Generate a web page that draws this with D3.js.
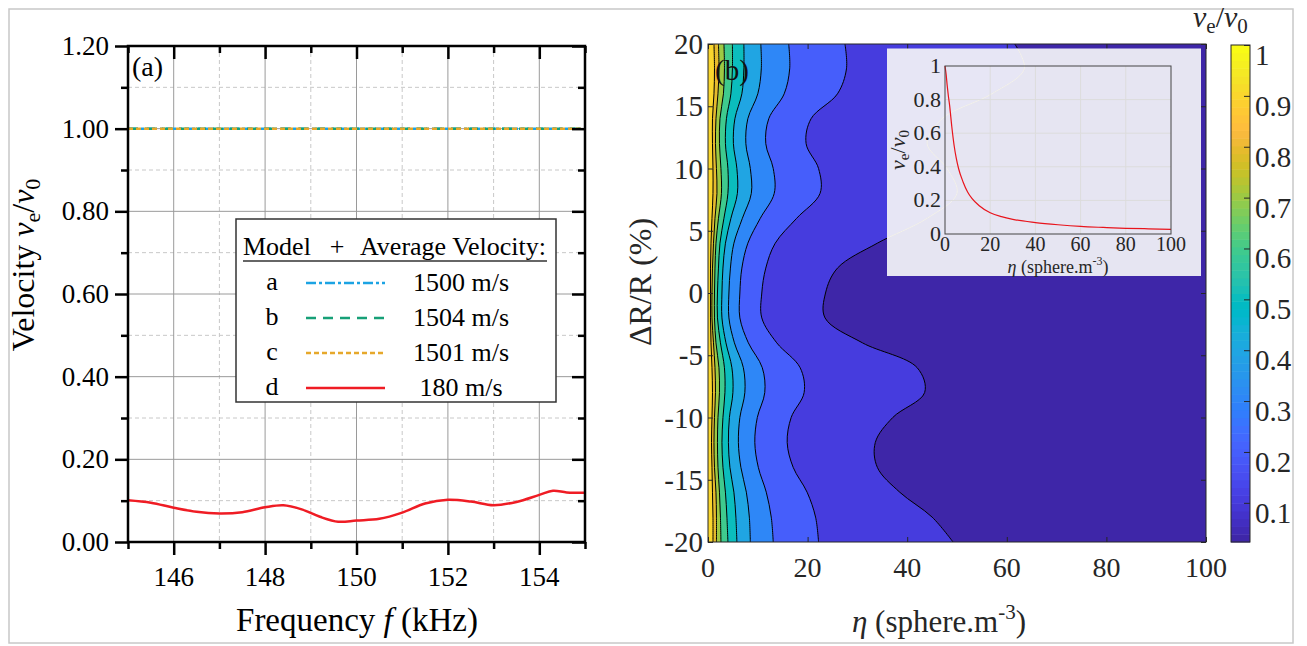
<!DOCTYPE html>
<html><head><meta charset="utf-8">
<script src="https://cdn.jsdelivr.net/npm/d3@7"></script>
<style>
html,body{margin:0;padding:0;background:#fff}
svg{display:block;font-family:"Liberation Serif","Times New Roman",serif}
</style></head><body>
<svg id="fig" width="1307" height="646"></svg>
<script>
// ---------- Panel (a): effective velocity vs frequency ----------
const freqMajor = [146, 148, 150, 152, 154];
const freqMinor = [145, 147, 149, 151, 153, 155];
const velMajor = [0, 0.2, 0.4, 0.6, 0.8, 1.0, 1.2];
const velMinor = [0.1, 0.3, 0.5, 0.7, 0.9, 1.1];

const flatFreq = [145, 155];
const modelA = [1.0, 1.0];
const modelB = [1.0, 1.0];
const modelC = [1.0, 1.0];
const modelDFreq = [145, 145.5, 146, 146.5, 147, 147.5, 148, 148.4, 148.8, 149.2, 149.6, 150, 150.5, 151, 151.5, 152, 152.5, 153, 153.5, 154, 154.3, 154.6, 155];
const modelDVel = [0.101, 0.095, 0.083, 0.073, 0.069, 0.072, 0.084, 0.089, 0.079, 0.061, 0.049, 0.052, 0.056, 0.071, 0.093, 0.102, 0.098, 0.089, 0.097, 0.114, 0.124, 0.120, 0.119];

const legendKeys = ["a", "b", "c", "d"];
const legendSpeeds = ["1500 m/s", "1504 m/s", "1501 m/s", "180 m/s"];

// ---------- Panel (b): contour of v_e/v_0 over eta and dR/R ----------
const deltaR = [20, 18, 16, 14, 12, 10, 8, 6, 4, 2, 0, -2, -4, -6, -8, -10, -12, -14, -16, -18, -20];
const levels = [0.1, 0.2, 0.3, 0.4, 0.5, 0.6, 0.7, 0.8, 0.9];
const eta01 = [61.6, 63.5, 57.0, 47.0, 44.0, 48.0, 50.0, 44.0, 34.0, 26.0, 23.6, 23.5, 31.0, 42.0, 43.5, 37.1, 33.6, 34.0, 38.5, 45.0, 49.2];
const eta02 = [27.5, 27.8, 26.0, 20.7, 19.7, 22.2, 22.5, 17.8, 13.5, 11.6, 10.8, 10.8, 13.8, 18.5, 19.3, 16.7, 15.9, 17.1, 19.9, 21.6, 22.2];
const eta03 = [16.2, 16.4, 15.3, 12.2, 11.6, 13.1, 13.3, 10.5, 8.0, 6.8, 6.4, 6.4, 8.1, 10.9, 11.4, 9.9, 9.4, 10.1, 11.7, 12.7, 13.1];
const eta04 = [10.6, 10.7, 10.0, 8.0, 7.6, 8.5, 8.7, 6.9, 5.2, 4.5, 4.2, 4.2, 5.3, 7.1, 7.4, 6.4, 6.1, 6.6, 7.7, 8.3, 8.5];
const eta05 = [7.2, 7.2, 6.8, 5.4, 5.1, 5.8, 5.9, 4.6, 3.5, 3.0, 2.8, 2.8, 3.6, 4.8, 5.0, 4.3, 4.1, 4.4, 5.2, 5.6, 5.8];
const eta06 = [4.9, 4.9, 4.6, 3.7, 3.5, 4.0, 4.0, 3.2, 2.4, 2.1, 1.9, 1.9, 2.5, 3.3, 3.4, 3.0, 2.8, 3.0, 3.5, 3.8, 4.0];
const eta07 = [3.2, 3.3, 3.1, 2.4, 2.3, 2.6, 2.7, 2.1, 1.6, 1.4, 1.3, 1.3, 1.6, 2.2, 2.3, 2.0, 1.9, 2.0, 2.3, 2.5, 2.6];
const eta08 = [2.1, 2.2, 2.0, 1.6, 1.5, 1.7, 1.8, 1.4, 1.1, 0.9, 0.8, 0.8, 1.1, 1.4, 1.5, 1.3, 1.2, 1.3, 1.6, 1.7, 1.7];
const eta09 = [1.2, 1.3, 1.2, 0.9, 0.9, 1.0, 1.0, 0.8, 0.6, 0.5, 0.5, 0.5, 0.6, 0.8, 0.9, 0.8, 0.7, 0.8, 0.9, 1.0, 1.0];
const contourLines = [eta01, eta02, eta03, eta04, eta05, eta06, eta07, eta08, eta09];
const velMin = 0.023, velMax = 1;

const etaTicks = [0, 20, 40, 60, 80, 100];
const dRTicks = [20, 15, 10, 5, 0, -5, -10, -15, -20];
const cbTicks = [0.1, 0.2, 0.3, 0.4, 0.5, 0.6, 0.7, 0.8, 0.9, 1];

// inset: v_e/v_0 against eta
const insetEta = [0, 0.5, 1, 1.5, 2, 3, 4, 5, 6, 8, 10, 12, 15, 20, 25, 30, 40, 50, 60, 70, 80, 90, 100];
const insetVel = [1.0, 0.95, 0.88, 0.82, 0.77, 0.64, 0.53, 0.45, 0.39, 0.31, 0.25, 0.21, 0.17, 0.127, 0.103, 0.087, 0.068, 0.055, 0.045, 0.039, 0.034, 0.031, 0.028];
const insetXTicks = [0, 20, 40, 60, 80, 100];
const insetYTicks = [0, 0.2, 0.4, 0.6, 0.8, 1];

// MATLAB parula, 64 entries
const parula = [
[0.2422,0.1504,0.6603],[0.2504,0.1650,0.7076],[0.2578,0.1818,0.7511],[0.2647,0.1978,0.7952],
[0.2706,0.2147,0.8364],[0.2751,0.2342,0.8710],[0.2783,0.2559,0.8991],[0.2803,0.2782,0.9221],
[0.2813,0.3006,0.9414],[0.2810,0.3228,0.9579],[0.2795,0.3447,0.9717],[0.2760,0.3667,0.9829],
[0.2699,0.3892,0.9906],[0.2602,0.4123,0.9952],[0.2440,0.4358,0.9988],[0.2206,0.4603,0.9973],
[0.1963,0.4847,0.9892],[0.1834,0.5074,0.9798],[0.1786,0.5289,0.9682],[0.1764,0.5499,0.9520],
[0.1687,0.5703,0.9359],[0.1540,0.5902,0.9218],[0.1460,0.6091,0.9079],[0.1380,0.6276,0.8973],
[0.1248,0.6459,0.8883],[0.1113,0.6635,0.8763],[0.0952,0.6798,0.8598],[0.0689,0.6948,0.8394],
[0.0297,0.7082,0.8163],[0.0036,0.7203,0.7917],[0.0067,0.7312,0.7660],[0.0433,0.7411,0.7394],
[0.0964,0.7500,0.7120],[0.1408,0.7584,0.6842],[0.1717,0.7670,0.6554],[0.1938,0.7758,0.6251],
[0.2161,0.7843,0.5923],[0.2470,0.7918,0.5567],[0.2906,0.7973,0.5188],[0.3406,0.8008,0.4789],
[0.3909,0.8029,0.4354],[0.4456,0.8024,0.3909],[0.5044,0.7993,0.3480],[0.5616,0.7942,0.3045],
[0.6174,0.7876,0.2612],[0.6720,0.7793,0.2227],[0.7242,0.7698,0.1910],[0.7738,0.7598,0.1646],
[0.8203,0.7498,0.1535],[0.8634,0.7406,0.1596],[0.9035,0.7330,0.1774],[0.9393,0.7288,0.2100],
[0.9728,0.7298,0.2394],[0.9956,0.7434,0.2371],[0.9970,0.7659,0.2199],[0.9952,0.7893,0.2028],
[0.9892,0.8136,0.1885],[0.9786,0.8386,0.1766],[0.9676,0.8639,0.1643],[0.9610,0.8890,0.1537],
[0.9597,0.9135,0.1423],[0.9628,0.9373,0.1265],[0.9691,0.9606,0.1064],[0.9769,0.9839,0.0805]];
const parulaHex = parula.map(c => d3.rgb(c[0]*255, c[1]*255, c[2]*255).formatHex());
function cmap(v) {
  const t = (v - velMin) / (velMax - velMin);
  return parulaHex[Math.max(0, Math.min(63, Math.floor(t * 64)))];
}

const svg = d3.select("#fig");
const defs = svg.append("defs");
svg.append("rect").attr("width", 1307).attr("height", 646).attr("fill", "#fff");
svg.append("rect").attr("x", 9).attr("y", 9).attr("width", 1284).attr("height", 634)
  .attr("fill", "none").attr("stroke", "#c8c8c8").attr("stroke-width", 1.5);

// tick labels placed from a scale
function tickLabels(g, values, xf, yf, fmt, size, anchor, fill) {
  g.selectAll(null).data(values).join("text")
    .attr("x", xf).attr("y", yf).attr("font-size", size)
    .attr("text-anchor", anchor).attr("fill", fill).text(fmt);
}
// tick marks only from d3 axes
function tickMarks(g, axis, color, width) {
  g.call(axis.tickFormat(""));
  g.select(".domain").remove();
  g.selectAll(".tick line").attr("stroke", color).attr("stroke-width", width);
  g.selectAll(".tick text").remove();
}

// ================= Panel (a) =================
const A = {l: 128, r: 585, t: 46, b: 542};
const xA = d3.scaleLinear().domain([145, 155]).range([A.l, A.r]);
const yA = d3.scaleLinear().domain([0, 1.2]).range([A.b, A.t]);
const gA = svg.append("g");

// grid
gA.selectAll(".vmin").data(freqMinor.filter(d => d > 145 && d < 155)).join("line")
  .attr("x1", d => xA(d)).attr("x2", d => xA(d)).attr("y1", A.t).attr("y2", A.b)
  .attr("stroke", "#c8c8c8").attr("stroke-width", 1).attr("stroke-dasharray", "4,3");
gA.selectAll(".hmin").data(velMinor).join("line")
  .attr("y1", d => yA(d)).attr("y2", d => yA(d)).attr("x1", A.l).attr("x2", A.r)
  .attr("stroke", "#c8c8c8").attr("stroke-width", 1).attr("stroke-dasharray", "4,3");
gA.selectAll(".vmaj").data(freqMajor).join("line")
  .attr("x1", d => xA(d)).attr("x2", d => xA(d)).attr("y1", A.t).attr("y2", A.b)
  .attr("stroke", "#9a9a9a").attr("stroke-width", 1);
gA.selectAll(".hmaj").data(velMajor.filter(d => d > 0 && d < 1.2)).join("line")
  .attr("y1", d => yA(d)).attr("y2", d => yA(d)).attr("x1", A.l).attr("x2", A.r)
  .attr("stroke", "#9a9a9a").attr("stroke-width", 1);

// series
const lineA = d3.line().x((d, i) => xA(flatFreq[i])).y(d => yA(d));
gA.append("path").datum(modelA).attr("d", lineA).attr("fill", "none")
  .attr("stroke", "#1ca3e3").attr("stroke-width", 2.5).attr("stroke-dasharray", "10,3,3,3");
gA.append("path").datum(modelB).attr("d", lineA).attr("fill", "none")
  .attr("stroke", "#17a077").attr("stroke-width", 2.5).attr("stroke-dasharray", "10,7");
gA.append("path").datum(modelC).attr("d", lineA).attr("fill", "none")
  .attr("stroke", "#e6a82b").attr("stroke-width", 2.5).attr("stroke-dasharray", "5,3");
const lineD = d3.line().curve(d3.curveCatmullRom.alpha(0.5))
  .x((d, i) => xA(modelDFreq[i])).y(d => yA(d));
gA.append("path").datum(modelDVel).attr("d", lineD).attr("fill", "none")
  .attr("stroke", "#ef1c24").attr("stroke-width", 2.5);

// ticks: outward on left/bottom, inward on top/right
gA.append("g").attr("transform", `translate(${A.l},0)`).call(g => tickMarks(g, d3.axisLeft(yA).tickValues(velMajor).tickSize(13), "#000", 2.5));
gA.append("g").attr("transform", `translate(${A.l},0)`).call(g => tickMarks(g, d3.axisLeft(yA).tickValues(velMinor).tickSize(7), "#000", 2.5));
gA.append("g").attr("transform", `translate(0,${A.b})`).call(g => tickMarks(g, d3.axisBottom(xA).tickValues(freqMajor).tickSize(13), "#000", 2.5));
gA.append("g").attr("transform", `translate(0,${A.b})`).call(g => tickMarks(g, d3.axisBottom(xA).tickValues(freqMinor).tickSize(7), "#000", 2.5));
gA.append("g").attr("transform", `translate(0,${A.t})`).call(g => tickMarks(g, d3.axisTop(xA).tickValues(freqMajor).tickSize(-13), "#000", 2.5));
gA.append("g").attr("transform", `translate(0,${A.t})`).call(g => tickMarks(g, d3.axisTop(xA).tickValues(freqMinor).tickSize(-7), "#000", 2.5));
gA.append("g").attr("transform", `translate(${A.r},0)`).call(g => tickMarks(g, d3.axisRight(yA).tickValues(velMajor).tickSize(-13), "#000", 2.5));
gA.append("g").attr("transform", `translate(${A.r},0)`).call(g => tickMarks(g, d3.axisRight(yA).tickValues(velMinor).tickSize(-7), "#000", 2.5));
gA.append("rect").attr("x", A.l).attr("y", A.t).attr("width", A.r - A.l).attr("height", A.b - A.t)
  .attr("fill", "none").attr("stroke", "#000").attr("stroke-width", 2.5);
tickLabels(gA, velMajor, () => 109, d => yA(d) + 9, d3.format(".2f"), 27, "end", "#000");
tickLabels(gA, freqMajor, d => xA(d), () => 586, d3.format("d"), 27, "middle", "#000");

// legend
const leg = gA.append("g");
leg.append("rect").attr("x", 236).attr("y", 219).attr("width", 320).attr("height", 183)
  .attr("fill", "#fff").attr("stroke", "#333").attr("stroke-width", 1.5);
leg.append("text").attr("x", 243).attr("y", 255).attr("font-size", 26).text("Model");
leg.append("text").attr("x", 337).attr("y", 255).attr("font-size", 26).attr("text-anchor", "middle").text("+");
leg.append("text").attr("x", 360).attr("y", 255).attr("font-size", 26).text("Average Velocity:");
leg.append("line").attr("x1", 243).attr("x2", 547).attr("y1", 261).attr("y2", 261)
  .attr("stroke", "#333").attr("stroke-width", 1.5);
const legStyles = [
  {c: "#1ca3e3", dash: "10,3,3,3"}, {c: "#17a077", dash: "10,7"},
  {c: "#e6a82b", dash: "5,3"}, {c: "#ef1c24", dash: null}];
legendKeys.forEach((k, i) => {
  const yy = 283 + i * 35;
  leg.append("text").attr("x", 272).attr("y", yy + 7).attr("font-size", 26).attr("text-anchor", "middle").text(k);
  const ln = leg.append("line").attr("x1", 306).attr("x2", 385).attr("y1", yy).attr("y2", yy)
    .attr("stroke", legStyles[i].c).attr("stroke-width", 2.5);
  if (legStyles[i].dash) ln.attr("stroke-dasharray", legStyles[i].dash);
  leg.append("text").attr("x", 461).attr("y", yy + 8).attr("font-size", 26).attr("text-anchor", "middle").text(legendSpeeds[i]);
});

gA.append("text").attr("x", 132).attr("y", 76).attr("font-size", 28).text("(a)");

// axis titles
const yTitleA = gA.append("text").attr("transform", "translate(34,265) rotate(-90)")
  .attr("text-anchor", "middle").attr("font-size", 32);
yTitleA.append("tspan").text("Velocity ");
yTitleA.append("tspan").attr("font-style", "italic").text("v");
yTitleA.append("tspan").attr("font-size", 22).attr("dy", 6).text("e");
yTitleA.append("tspan").attr("dy", -6).text("/");
yTitleA.append("tspan").attr("font-style", "italic").text("v");
yTitleA.append("tspan").attr("font-size", 22).attr("dy", 6).text("0");
const xTitleA = gA.append("text").attr("x", 357).attr("y", 631).attr("text-anchor", "middle").attr("font-size", 33);
xTitleA.append("tspan").text("Frequency ");
xTitleA.append("tspan").attr("font-style", "italic").text("f");
xTitleA.append("tspan").text(" (kHz)");

// ================= Panel (b) =================
const B = {l: 708, r: 1206, t: 44, b: 542};
const xB = d3.scaleLinear().domain([0, 100]).range([B.l, B.r]);
const yB = d3.scaleLinear().domain([-20, 20]).range([B.b, B.t]);
const gB = svg.append("g");
defs.append("clipPath").attr("id", "clipB").append("rect")
  .attr("x", B.l).attr("y", B.t).attr("width", B.r - B.l).attr("height", B.b - B.t);
const plotB = gB.append("g").attr("clip-path", "url(#clipB)");

// region below the lowest level
plotB.append("rect").attr("x", B.l).attr("y", B.t).attr("width", B.r - B.l).attr("height", B.b - B.t)
  .attr("fill", parulaHex[0]);
const curve = d3.curveCatmullRom.alpha(0.5);
const bandArea = d3.area().curve(curve)
  .y((d, j) => yB(deltaR[j])).x0(B.l - 5).x1(d => xB(d));
levels.forEach((L, i) => {
  plotB.append("path").datum(contourLines[i]).attr("d", bandArea).attr("fill", cmap(L));
});
const isoLine = d3.line().curve(curve).x(d => xB(d)).y((d, j) => yB(deltaR[j]));
levels.forEach((L, i) => {
  plotB.append("path").datum(contourLines[i]).attr("d", isoLine)
    .attr("fill", "none").attr("stroke", "#000").attr("stroke-width", 1);
});

const TXT = "#262626";
gB.append("g").attr("transform", `translate(${B.l},0)`).call(g => tickMarks(g, d3.axisLeft(yB).tickValues(dRTicks).tickSize(-5), TXT, 1));
gB.append("g").attr("transform", `translate(${B.r},0)`).call(g => tickMarks(g, d3.axisRight(yB).tickValues(dRTicks).tickSize(-5), TXT, 1));
gB.append("g").attr("transform", `translate(0,${B.b})`).call(g => tickMarks(g, d3.axisBottom(xB).tickValues(etaTicks).tickSize(-5), TXT, 1));
gB.append("g").attr("transform", `translate(0,${B.t})`).call(g => tickMarks(g, d3.axisTop(xB).tickValues(etaTicks).tickSize(-5), TXT, 1));
gB.append("rect").attr("x", B.l).attr("y", B.t).attr("width", B.r - B.l).attr("height", B.b - B.t)
  .attr("fill", "none").attr("stroke", TXT).attr("stroke-width", 1);
tickLabels(gB, dRTicks, () => 703, d => yB(d) + 10, d => d < 0 ? "-" + (-d) : String(d), 29, "end", TXT);
tickLabels(gB, etaTicks, d => xB(d), () => 577, d3.format("d"), 28, "middle", TXT);

gB.append("text").attr("x", 715).attr("y", 80).attr("font-size", 29).attr("fill", "#111").text("(b)");

gB.append("text").attr("transform", "translate(651,282) rotate(-90)")
  .attr("text-anchor", "middle").attr("font-size", 32).attr("fill", TXT).text("\u0394R/R (%)");
const xTitleB = gB.append("text").attr("x", 939).attr("y", 632).attr("text-anchor", "middle")
  .attr("font-size", 31).attr("fill", TXT);
xTitleB.append("tspan").attr("font-style", "italic").text("\u03b7");
xTitleB.append("tspan").text(" (sphere.m");
xTitleB.append("tspan").attr("font-size", 21).attr("dy", -13).text("-3");
xTitleB.append("tspan").attr("dy", 13).text(")");

// ---- inset (semi-transparent panel over the contour map) ----
const I = {l: 945, r: 1171, t: 66, b: 234};
const xI = d3.scaleLinear().domain([0, 100]).range([I.l, I.r]);
const yI = d3.scaleLinear().domain([0, 1]).range([I.b, I.t]);
const gI = gB.append("g");
const inBox = {x: 887, y: 48.5, w: 314, h: 227.5};
defs.append("clipPath").attr("id", "clipInset").append("rect")
  .attr("x", inBox.x).attr("y", inBox.y).attr("width", inBox.w).attr("height", inBox.h);
gI.append("rect").attr("x", inBox.x).attr("y", inBox.y).attr("width", inBox.w).attr("height", inBox.h)
  .attr("fill", "#f1f1f7").attr("fill-opacity", 0.94);
// lowest iso-line glimpsed through the panel
gI.append("path").datum(eta01).attr("d", isoLine).attr("clip-path", "url(#clipInset)")
  .attr("fill", "none").attr("stroke", "#faf6ee").attr("stroke-opacity", 0.7).attr("stroke-width", 1);
gI.selectAll(".ig").data(insetXTicks.filter(d => d > 0 && d < 100)).join("line")
  .attr("x1", d => xI(d)).attr("x2", d => xI(d)).attr("y1", I.t).attr("y2", I.b)
  .attr("stroke", "#dcdcdc").attr("stroke-width", 1);
gI.selectAll(".ih").data(insetYTicks.filter(d => d > 0 && d < 1)).join("line")
  .attr("y1", d => yI(d)).attr("y2", d => yI(d)).attr("x1", I.l).attr("x2", I.r)
  .attr("stroke", "#dcdcdc").attr("stroke-width", 1);
gI.append("path").datum(insetVel)
  .attr("d", d3.line().curve(d3.curveMonotoneX).x((d, i) => xI(insetEta[i])).y(d => yI(d)))
  .attr("fill", "none").attr("stroke", "#e8141c").attr("stroke-width", 1.2);
gI.append("rect").attr("x", I.l).attr("y", I.t).attr("width", I.r - I.l).attr("height", I.b - I.t)
  .attr("fill", "none").attr("stroke", "#444").attr("stroke-width", 1);
tickLabels(gI, insetYTicks, () => 941, d => yI(d) + 7, d => d === 0 || d === 1 ? String(d) : d.toFixed(1), 22, "end", TXT);
tickLabels(gI, insetXTicks, d => xI(d), () => 251, d3.format("d"), 20, "middle", TXT);
const yTitleI = gI.append("text").attr("transform", "translate(905,150) rotate(-90)")
  .attr("text-anchor", "middle").attr("font-size", 22).attr("fill", TXT);
yTitleI.append("tspan").attr("font-style", "italic").text("v");
yTitleI.append("tspan").attr("font-size", 15).attr("dy", 4).text("e");
yTitleI.append("tspan").attr("dy", -4).text("/");
yTitleI.append("tspan").attr("font-style", "italic").text("v");
yTitleI.append("tspan").attr("font-size", 15).attr("dy", 4).text("0");
const xTitleI = gI.append("text").attr("x", 1058).attr("y", 273).attr("text-anchor", "middle")
  .attr("font-size", 18).attr("fill", TXT);
xTitleI.append("tspan").attr("font-style", "italic").text("\u03b7");
xTitleI.append("tspan").text(" (sphere.m");
xTitleI.append("tspan").attr("font-size", 12).attr("dy", -8).text("-3");
xTitleI.append("tspan").attr("dy", 8).text(")");

// ---- colorbar ----
const C = {l: 1231, r: 1250, t: 45, b: 542};
const yC = d3.scaleLinear().domain([velMin, velMax]).range([C.b, C.t]);
const gC = svg.append("g");
const steps = d3.range(64);
gC.selectAll(".cb").data(steps).join("rect")
  .attr("x", C.l).attr("width", C.r - C.l)
  .attr("y", i => yC(velMin + (i + 1) * (velMax - velMin) / 64))
  .attr("height", i => yC(velMin + i * (velMax - velMin) / 64) - yC(velMin + (i + 1) * (velMax - velMin) / 64) + 0.5)
  .attr("fill", i => parulaHex[i]);
gC.append("rect").attr("x", C.l).attr("y", C.t).attr("width", C.r - C.l).attr("height", C.b - C.t)
  .attr("fill", "none").attr("stroke", TXT).attr("stroke-width", 1);
gC.append("g").attr("transform", `translate(${C.r},0)`).call(g => tickMarks(g, d3.axisRight(yC).tickValues(cbTicks).tickSize(-6), TXT, 1));
tickLabels(gC, cbTicks, () => 1255, d => yC(d) + 20, d => d === 1 ? "1" : d.toFixed(1), 29, "start", TXT);
const cbTitle = gC.append("text").attr("x", 1193).attr("y", 27).attr("font-size", 30).attr("fill", TXT);
cbTitle.append("tspan").attr("font-style", "italic").text("v");
cbTitle.append("tspan").attr("font-size", 21).attr("dy", 6).text("e");
cbTitle.append("tspan").attr("dy", -6).text("/");
cbTitle.append("tspan").attr("font-style", "italic").text("v");
cbTitle.append("tspan").attr("font-size", 21).attr("dy", 6).text("0");
</script>
</body></html>
